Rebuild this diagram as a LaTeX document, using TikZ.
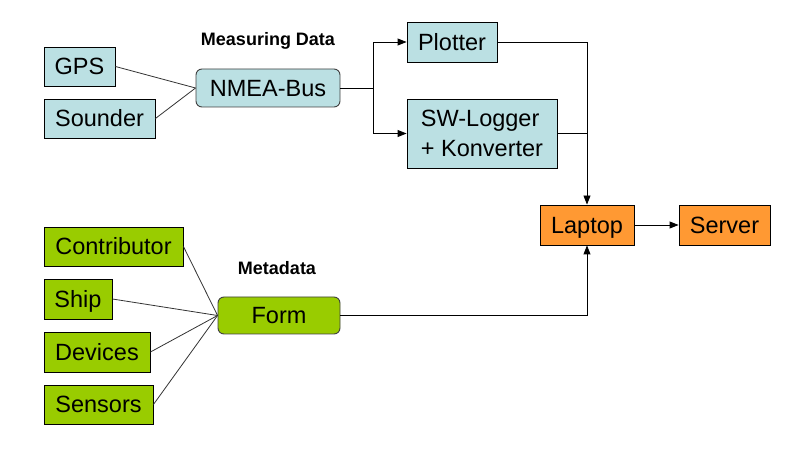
\documentclass[tikz,border=0pt]{standalone}
\usepackage{fontspec}
\setmainfont{Liberation Sans}
\usetikzlibrary{arrows.meta}
\definecolor{lblue}{HTML}{BBE0E3}
\definecolor{lgreen}{HTML}{99CC00}
\definecolor{lorange}{HTML}{FF9933}
\tikzset{
  boxfont/.style={font=\fontsize{23.5bp}{30bp}\selectfont},
  oneline/.style={text height=16.8bp, text depth=0pt},
  box/.style={draw=black, line width=0.9bp, inner sep=0pt, boxfont},
  bluebox/.style={box, fill=lblue},
  greenbox/.style={box, fill=lgreen, oneline},
  orangebox/.style={box, fill=lorange, oneline},
  roundbox/.style={draw=black!75, line width=0.9bp, rounded corners=6bp, inner sep=0pt, boxfont, oneline},
  heading/.style={font=\bfseries\fontsize{18bp}{20bp}\selectfont},
  thin/.style={draw=black!80, line width=0.8bp},
  conn/.style={draw=black, line width=0.9bp},
  arr/.style={conn, -{Triangle[length=9bp,width=7bp]}}
}
\begin{document}
\begin{tikzpicture}[x=1bp,y=-1bp]
\useasboundingbox (0,0) rectangle (804,452);
% measuring data
\node[bluebox, oneline, minimum width=71bp, minimum height=39bp] (gps) at (79.5,66.5) {GPS};
\node[bluebox, oneline, minimum width=111bp, minimum height=39bp] (sounder) at (99.5,118.5) {Sounder};
\node[roundbox, fill=lblue, minimum width=144bp, minimum height=38bp] (nmea) at (268,88) {NMEA-Bus};
\node[heading] (mdata) at (268,41) {Measuring Data};
\node[bluebox, oneline, minimum width=90bp, minimum height=40bp] (plotter) at (452,42) {Plotter};
\node[bluebox, align=left, minimum width=150bp, minimum height=69bp] (logger) at (482,133.5) {SW-Logger\\+ Konverter};
\node[orangebox, minimum width=94bp, minimum height=40bp] (laptop) at (587,225) {Laptop};
\node[orangebox, minimum width=91bp, minimum height=40bp] (server) at (724.5,225) {Server};
% metadata
\node[greenbox, minimum width=139bp, minimum height=39bp] (contrib) at (113.5,246.5) {Contributor};
\node[greenbox, minimum width=68bp, minimum height=40bp] (ship) at (78,299) {Ship};
\node[greenbox, minimum width=106bp, minimum height=40bp] (devices) at (97,352) {Devices};
\node[greenbox, minimum width=109bp, minimum height=39bp] (sensors) at (98.5,404.5) {Sensors};
\node[roundbox, fill=lgreen, minimum width=122bp, minimum height=37bp] (form) at (279,315.5) {Form};
\node[heading] (meta) at (277,268) {Metadata};
% connectors
\coordinate (nm) at (nmea.west);
\coordinate (fm) at (form.west);
\draw[thin] (gps.east) -- (nm);
\draw[thin] (sounder.east) -- (nm);
\draw[thin] (contrib.east) -- (fm);
\draw[thin] (ship.east) -- (fm);
\draw[thin] (devices.east) -- (fm);
\draw[thin] (sensors.east) -- (fm);
\coordinate (split) at (373,88);
\draw[conn] (nmea.east) -- (split);
\draw[arr] (split) |- (plotter.west);
\draw[arr] (split) |- (logger.west);
\draw[arr] (plotter.east) -| (laptop.north);
\draw[conn] (logger.east) -- (laptop.north |- logger.east);
\draw[arr] (form.east) -| (laptop.south);
\draw[arr] (laptop.east) -- (server.west);
\end{tikzpicture}
\end{document}
